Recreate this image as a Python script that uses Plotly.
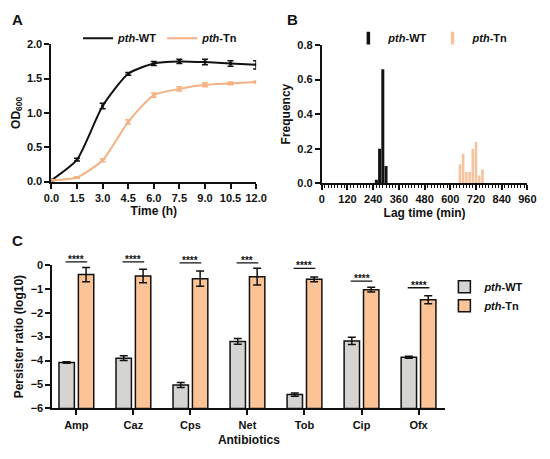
import plotly.graph_objects as go
import numpy as np

# ---------------- Panel A data ----------------
time_h = [0, 1.5, 3.0, 4.5, 6.0, 7.5, 9.0, 10.5, 12.0]
od_wt = [0.02, 0.32, 1.10, 1.57, 1.72, 1.75, 1.74, 1.72, 1.70]
od_wt_err = [0.01, 0.02, 0.04, 0.02, 0.03, 0.03, 0.04, 0.04, 0.06]
od_tn = [0.02, 0.06, 0.31, 0.87, 1.26, 1.35, 1.41, 1.43, 1.45]
od_tn_err = [0.01, 0.01, 0.02, 0.03, 0.03, 0.03, 0.03, 0.02, 0.01]

# ---------------- Panel B data ----------------
lag_wt = [255, 270, 285, 300]
freq_wt = [0.02, 0.20, 0.66, 0.10]
lag_tn = [645, 660, 675, 690, 705, 720, 735, 750]
freq_tn = [0.11, 0.17, 0.065, 0.065, 0.20, 0.24, 0.045, 0.08]

# ---------------- Panel C data ----------------
antibiotics = ["Amp", "Caz", "Cps", "Net", "Tob", "Cip", "Ofx"]
pers_wt = [-4.08, -3.90, -5.02, -3.20, -5.42, -3.18, -3.86]
pers_wt_err = [0.03, 0.10, 0.10, 0.12, 0.07, 0.15, 0.04]
pers_tn = [-0.41, -0.47, -0.58, -0.50, -0.61, -1.04, -1.46]
pers_tn_err = [0.30, 0.28, 0.32, 0.35, 0.10, 0.10, 0.17]
sig_labels = ["****", "****", "****", "***", "****", "****", "****"]
sig_y = [0.12, 0.12, 0.08, 0.08, -0.15, -0.68, -0.96]

BLACK = "#111111"
TN_LINE = "#F4B183"
TN_BAR_B = "#F7C29D"
GRAY_BAR = "#D6D4D2"
ORANGE_BAR = "#FBC396"
FONT = "Liberation Sans"

W, H = 550, 459
def px_x(p):
    return p / W
def px_y(p):
    return 1 - p / H

domA_x = [px_x(45), px_x(257)]
domA_y = [px_y(180.3), px_y(39.3)]
domB_x = [px_x(325), px_x(538)]
domB_y = [px_y(182), px_y(40)]
domC_x = [px_x(46), px_x(453)]
domC_y = [px_y(413.3), px_y(265.7)]

WT_NAME = "<i>pth</i>-WT"
TN_NAME = "<i>pth</i>-Tn"

fig = go.Figure()

# Panel A
for ys, errs, col in [(od_wt, od_wt_err, BLACK), (od_tn, od_tn_err, TN_LINE)]:
    fig.add_trace(go.Scatter(
        x=time_h, y=ys, mode="lines", showlegend=False,
        line=dict(color=col, width=2, shape="spline", smoothing=0.6),
        xaxis="x", yaxis="y"))
    fig.add_trace(go.Scatter(
        x=time_h, y=ys, mode="markers", showlegend=False,
        marker=dict(size=3, color=col, symbol="square"),
        error_y=dict(type="data", array=errs, color=col, thickness=1.5, width=3),
        xaxis="x", yaxis="y"))
for name, col in [(WT_NAME, BLACK), (TN_NAME, TN_LINE)]:
    fig.add_trace(go.Scatter(
        x=[None], y=[None], mode="lines", name=name,
        line=dict(color=col, width=2), xaxis="x", yaxis="y", legend="legend"))

# Panel B
fig.add_trace(go.Bar(
    x=lag_wt, y=freq_wt, width=14, showlegend=False,
    marker=dict(color=BLACK, line=dict(width=0)),
    xaxis="x2", yaxis="y2"))
fig.add_trace(go.Bar(
    x=lag_tn, y=freq_tn, width=12, showlegend=False,
    marker=dict(color=TN_BAR_B, line=dict(width=0)),
    xaxis="x2", yaxis="y2"))
for name, col in [(WT_NAME, BLACK), (TN_NAME, TN_BAR_B)]:
    fig.add_trace(go.Scatter(
        x=[None], y=[None], mode="markers", name=name,
        marker=dict(symbol="line-ns", size=9, line=dict(color=col, width=3.5)),
        xaxis="x2", yaxis="y2", legend="legend2"))

# Panel C
pos = np.arange(len(antibiotics))
off = 0.17
bw = 0.27
base_val = -6
fig.add_trace(go.Bar(
    x=pos - off, y=np.array(pers_wt) - base_val, base=base_val, width=bw,
    name=WT_NAME,
    marker=dict(color=GRAY_BAR, line=dict(color=BLACK, width=1.5)),
    error_y=dict(type="data", array=pers_wt_err, color=BLACK, thickness=1.5, width=4),
    xaxis="x3", yaxis="y3", legend="legend3"))
fig.add_trace(go.Bar(
    x=pos + off, y=np.array(pers_tn) - base_val, base=base_val, width=bw,
    name=TN_NAME,
    marker=dict(color=ORANGE_BAR, line=dict(color=BLACK, width=1.5)),
    error_y=dict(type="data", array=pers_tn_err, color=BLACK, thickness=1.5, width=4),
    xaxis="x3", yaxis="y3", legend="legend3"))

c_range = [-6, 0]
def c_paper(v):
    return domC_y[0] + (v - c_range[0]) / (c_range[1] - c_range[0]) * (domC_y[1] - domC_y[0])

shapes = []
annotations = []
for i, (lab, yv) in enumerate(zip(sig_labels, sig_y)):
    shapes.append(dict(type="line", xref="x3", yref="paper",
                       x0=pos[i] - off - 0.02, x1=pos[i] + off + 0.02,
                       y0=c_paper(yv), y1=c_paper(yv),
                       line=dict(color=BLACK, width=1.3)))
    annotations.append(dict(xref="x3", yref="paper", x=pos[i], y=c_paper(yv),
                            text=lab, showarrow=False, yanchor="bottom",
                            yshift=-5, font=dict(size=10, color=BLACK)))

for letter, xp, yp in [("A", 10, 14), ("B", 295, 14), ("C", 10, 241)]:
    annotations.append(dict(xref="paper", yref="paper", x=px_x(xp), y=px_y(yp),
                            text="<b>%s</b>" % letter, showarrow=False,
                            xanchor="center", yanchor="middle",
                            font=dict(size=15, color=BLACK)))

axis_common = dict(showline=True, linecolor=BLACK, linewidth=2, ticks="outside",
                   tickcolor=BLACK, tickwidth=1.5, ticklen=5, showgrid=False,
                   zeroline=False, tickfont=dict(size=11, color=BLACK, family=FONT, weight="bold"),
                   title_font=dict(size=12, color=BLACK, family=FONT, weight="bold"))

leg_font = dict(size=11, color=BLACK, family=FONT, weight="bold")
fig.update_layout(
    width=W, height=H, margin=dict(l=0, r=0, t=0, b=0),
    paper_bgcolor="white", plot_bgcolor="white",
    font=dict(family=FONT, color=BLACK, weight="bold"),
    barmode="overlay",
    xaxis=dict(domain=domA_x, anchor="y", range=[0, 12], tickvals=time_h,
               tickformat=".1f", title=dict(text="Time (h)", standoff=4), **axis_common),
    yaxis=dict(domain=domA_y, anchor="x", range=[0, 2.0], dtick=0.5, tickformat=".1f",
               title=dict(text="OD<sub>600</sub>", standoff=4), **axis_common),
    xaxis2=dict(domain=domB_x, anchor="y2", range=[0, 960], dtick=120,
                minor=dict(dtick=15, ticks="outside", ticklen=3, tickcolor=BLACK, tickwidth=1),
                title=dict(text="Lag time (min)", standoff=4), **axis_common),
    yaxis2=dict(domain=domB_y, anchor="x2", range=[0, 0.8], dtick=0.2, tickformat=".1f",
                title=dict(text="Frequency", standoff=4), **axis_common),
    xaxis3=dict(domain=domC_x, anchor="y3", range=[-0.42, 6.47], tickvals=pos,
                ticktext=antibiotics, title=dict(text="Antibiotics", standoff=6), **axis_common),
    yaxis3=dict(domain=domC_y, anchor="x3", range=c_range, dtick=1,
                title=dict(text="Persister ratio (log10)", standoff=4), **axis_common),
    legend=dict(orientation="h", x=px_x(158), y=px_y(33), xanchor="center", yanchor="middle",
                font=leg_font, bgcolor="rgba(0,0,0,0)", itemwidth=30),
    legend2=dict(orientation="h", x=px_x(438), y=px_y(33), xanchor="center", yanchor="middle",
                 font=leg_font, bgcolor="rgba(0,0,0,0)", itemwidth=30),
    legend3=dict(orientation="v", x=px_x(452), y=px_y(298), xanchor="left", yanchor="middle",
                 font=leg_font, bgcolor="rgba(0,0,0,0)", tracegroupgap=2),
    shapes=shapes, annotations=annotations,
)

fig.write_html("out.html", config={"displayModeBar": False},
               post_script="document.body.style.margin='0';")
